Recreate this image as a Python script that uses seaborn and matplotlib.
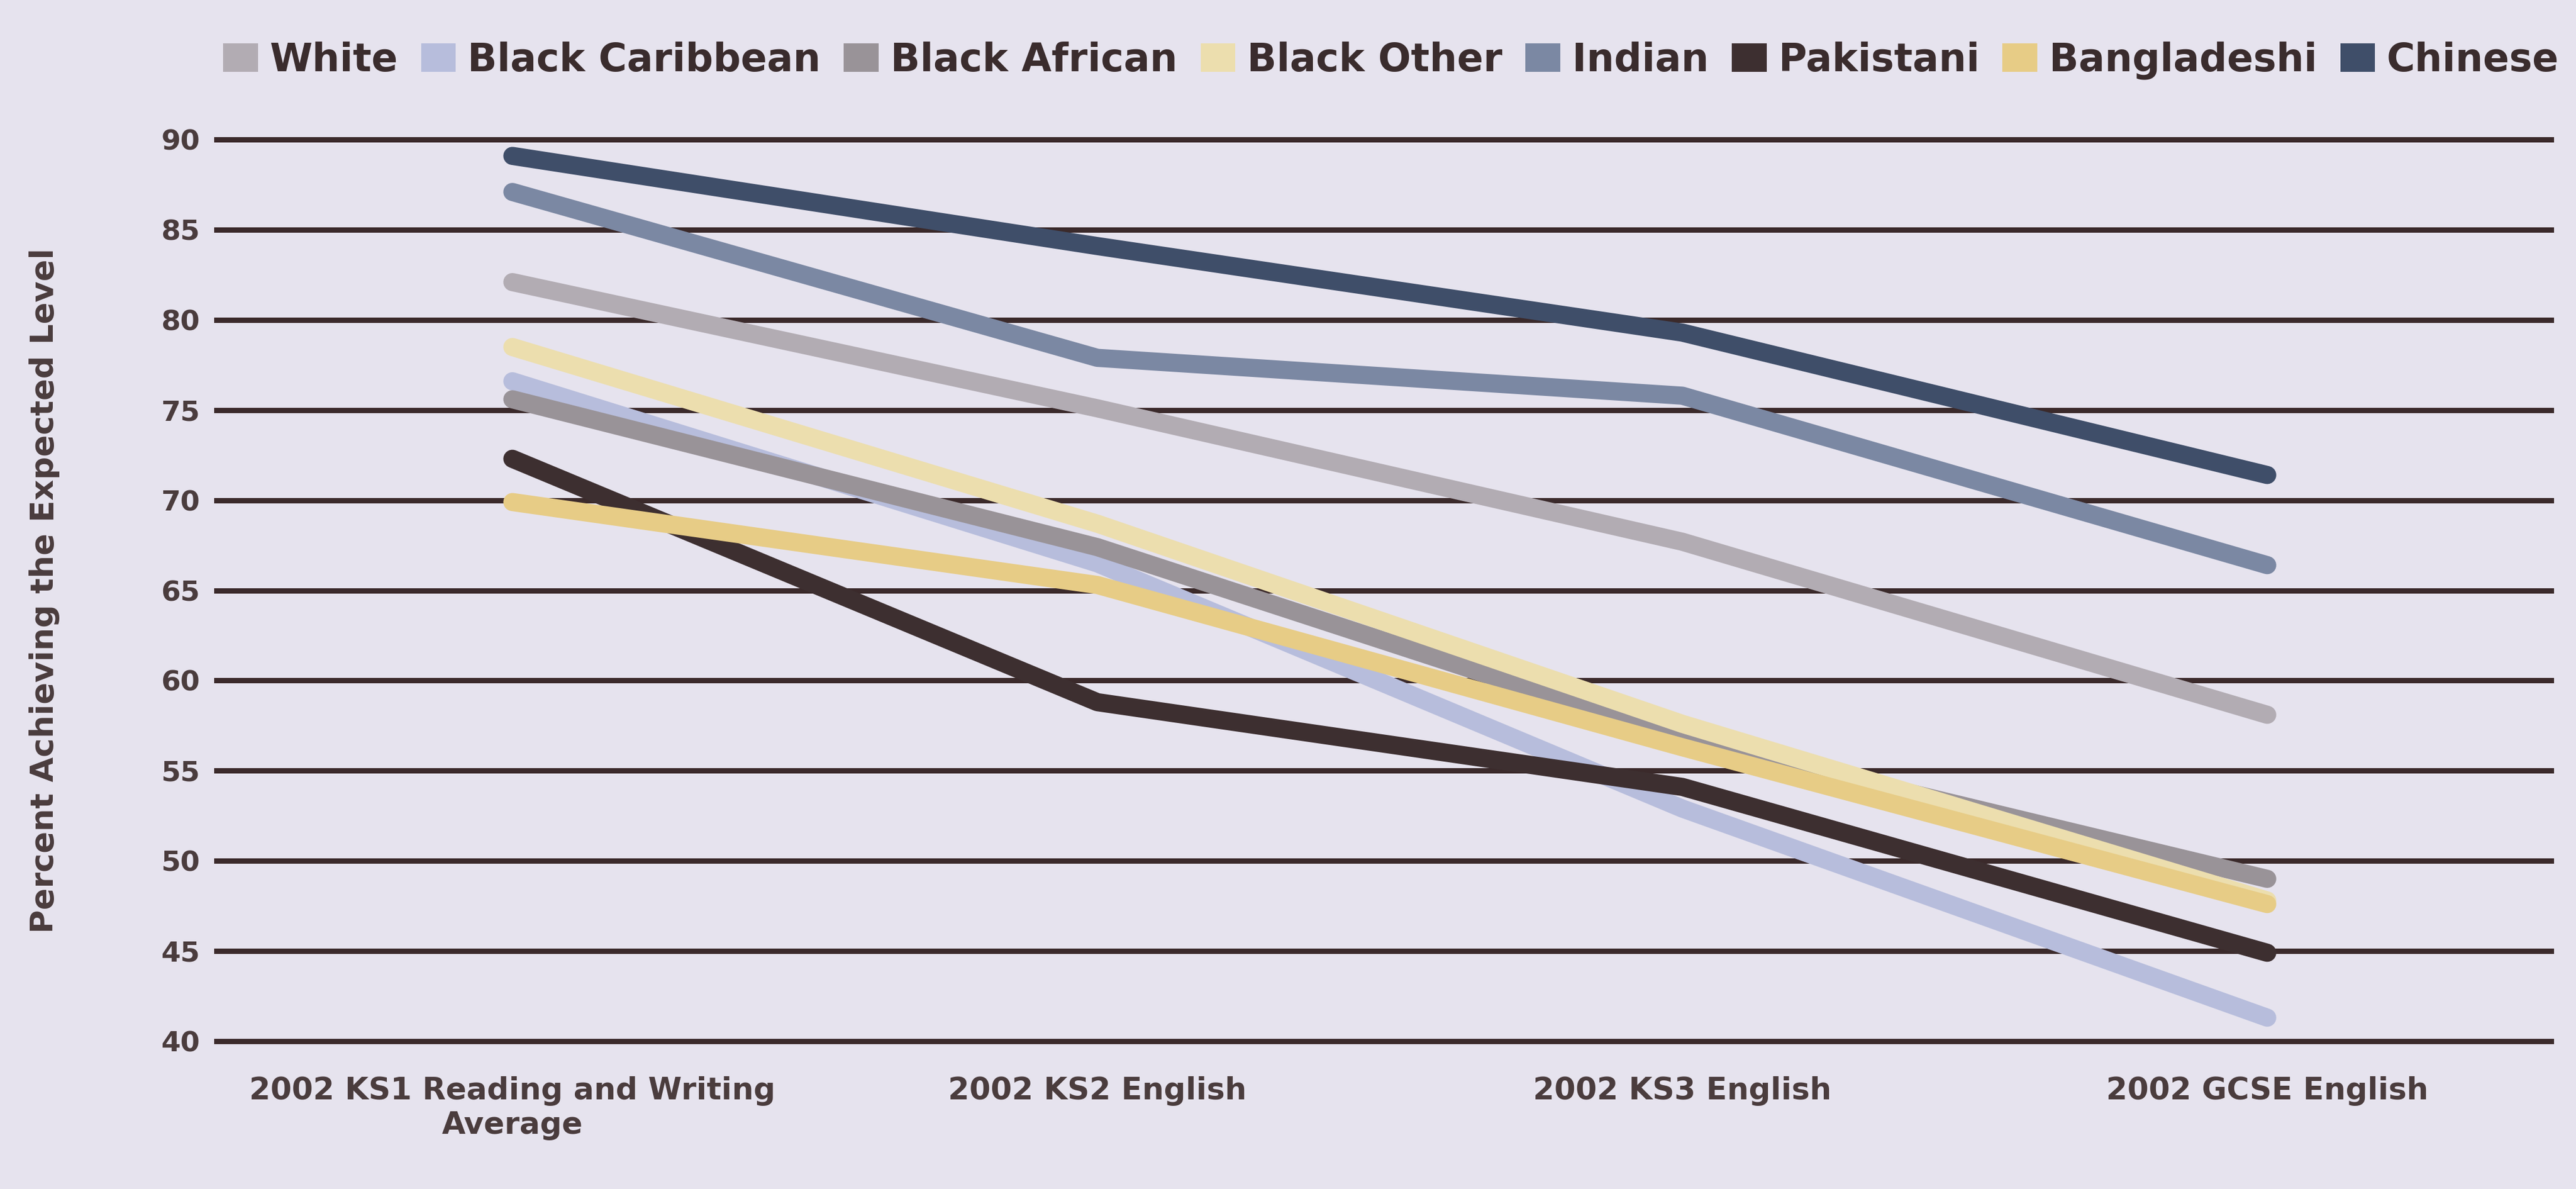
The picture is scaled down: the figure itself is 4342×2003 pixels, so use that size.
import pandas as pd
import matplotlib
matplotlib.use("Agg")
import matplotlib.pyplot as plt
from matplotlib.patches import Patch
import seaborn as sns

# stages on the x axis
stages = ["2002 KS1 Reading and Writing\nAverage", "2002 KS2 English",
          "2002 KS3 English", "2002 GCSE English"]

# percent achieving the expected level
white = [82.1, 75.1, 67.7, 58.1]
black_caribbean = [76.6, 66.5, 52.9, 41.3]
black_african = [75.6, 67.4, 56.8, 49.0]
black_other = [78.5, 68.7, 57.6, 47.8]
indian = [87.1, 77.9, 75.8, 66.4]
pakistani = [72.3, 58.8, 54.1, 44.9]
bangladeshi = [69.9, 65.3, 56.3, 47.6]
chinese = [89.1, 84.1, 79.3, 71.4]

groups = ["White", "Black Caribbean", "Black African", "Black Other",
          "Indian", "Pakistani", "Bangladeshi", "Chinese"]
series = [white, black_caribbean, black_african, black_other,
          indian, pakistani, bangladeshi, chinese]
colors = ["#b2acb3", "#b7bddc", "#999398", "#ecdeae",
          "#7b88a3", "#3d2f30", "#e7cc86", "#3f4e69"]

rows = []
for g, vals in zip(groups, series):
    for s, v in zip(stages, vals):
        rows.append({"stage": s, "group": g, "pct": v})
df = pd.DataFrame(rows)

sns.set_style("white")
plt.rcParams['font.family'] = ['DejaVu Sans']
bg = "#e6e3ee"
txt = "#4a3c3d"

fig = plt.figure(figsize=(43.42, 20.03), dpi=100, facecolor=bg)
ax = fig.add_axes([0.0831, 0.1168, 0.9083, 0.7733])
ax.set_facecolor(bg)

sns.lineplot(data=df, x="stage", y="pct", hue="group", hue_order=groups,
             palette=dict(zip(groups, colors)), sort=False, legend=False,
             linewidth=22, ax=ax, zorder=3)
for ln in ax.get_lines():
    ln.set_solid_capstyle("round")
    ln.set_solid_joinstyle("round")

ax.set_ylim(39.5, 90.5)
ax.set_xlim(-0.51, 3.49)
ax.set_yticks(range(40, 91, 5))
ax.yaxis.grid(True, color="#3b2a2b", linewidth=6.5)
ax.xaxis.grid(False)
ax.set_axisbelow(True)
for sp in ax.spines.values():
    sp.set_visible(False)

ax.tick_params(axis="y", length=0, pad=17, labelsize=34, labelcolor=txt)
ax.tick_params(axis="x", length=0, pad=32, labelsize=37, labelcolor=txt)
for lab in ax.get_xticklabels() + ax.get_yticklabels():
    lab.set_fontweight("bold")

ax.set_xlabel("")
ax.set_ylabel("Percent Achieving the Expected Level", fontsize=39,
              fontweight="bold", color=txt)
ax.yaxis.set_label_coords(-0.066, 0.5)

handles = [Patch(facecolor=c, edgecolor="none", label=g)
           for g, c in zip(groups, colors)]
leg = fig.legend(handles=handles, loc="center", ncol=8,
                 bbox_to_anchor=(0.540, 0.949), frameon=False,
                 prop={"size": 47, "weight": "bold"},
                 handlelength=0.9, handleheight=0.75, handletextpad=0.3,
                 columnspacing=0.6)
for t in leg.get_texts():
    t.set_color("#3a2c2d")

fig.savefig("out.png", dpi=100, facecolor=bg)
